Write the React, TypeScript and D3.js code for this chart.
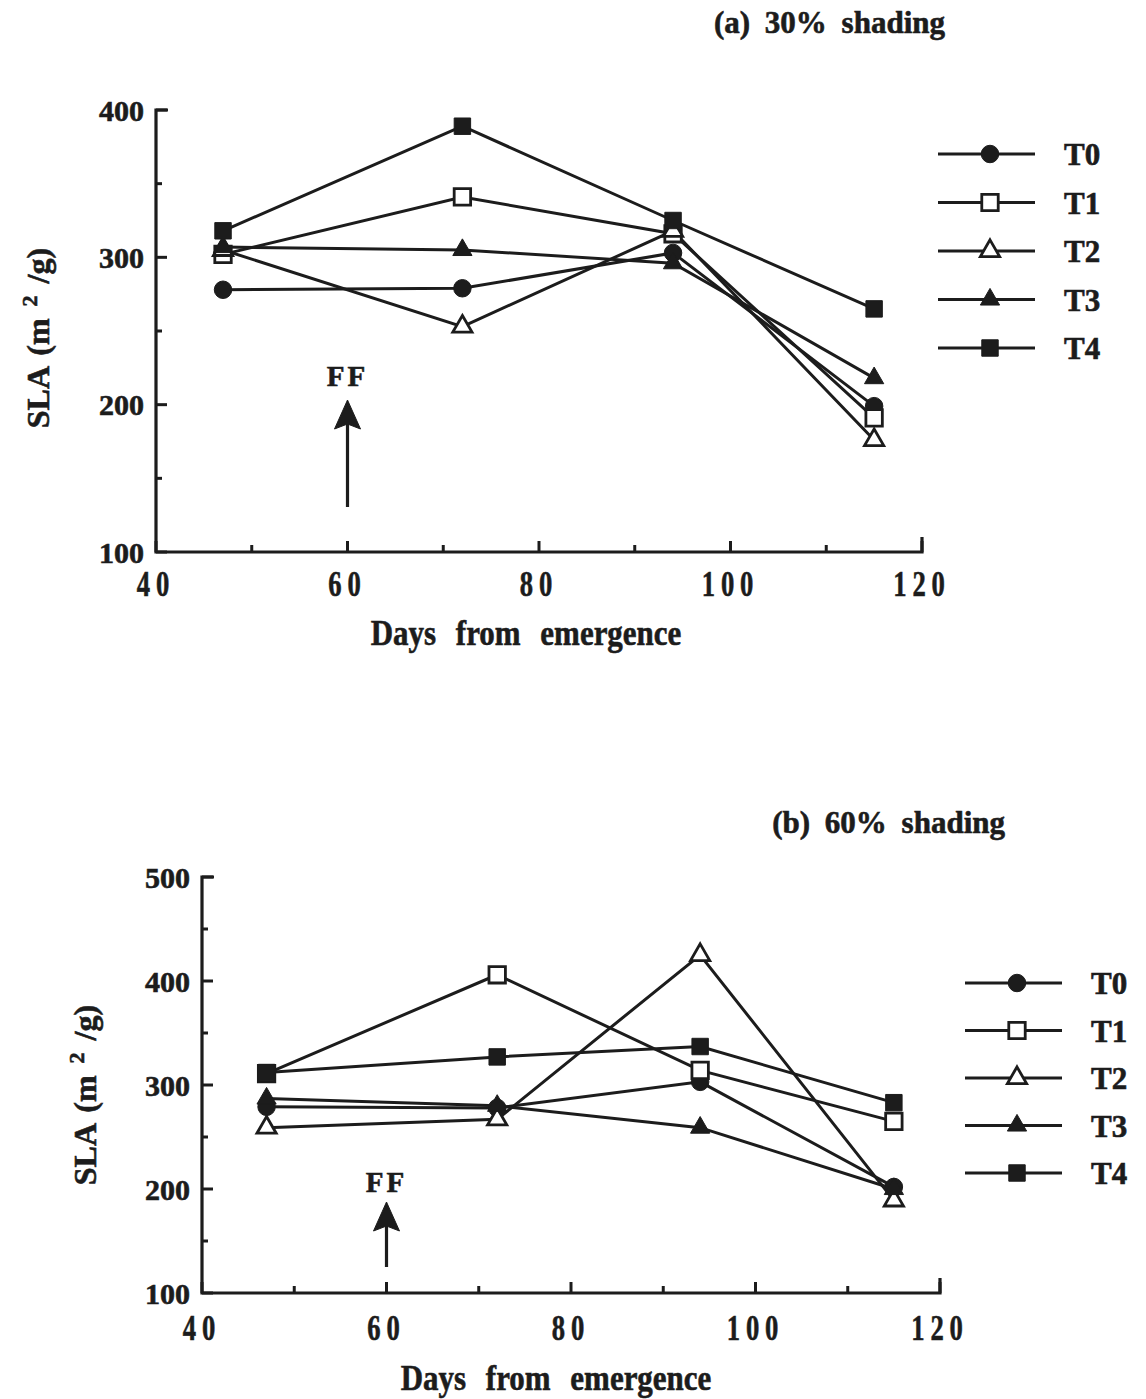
import * as d3 from 'd3';

// sampling days (x) for every treatment
const days = [47, 72, 94, 115];
const treatments = ['T0', 'T1', 'T2', 'T3', 'T4'];

// (a) 30% shading, SLA values
const a30T0 = [278, 279, 303, 199];
const a30T1 = [302, 341, 316, 191];
const a30T2 = [305, 253, 318, 176];
const a30T3 = [307, 305, 296, 218];
const a30T4 = [318, 389, 325, 265];

// (b) 60% shading, SLA values
const b60T0 = [279, 278, 303, 202];
const b60T1 = [311, 406, 314, 265];
const b60T2 = [259, 267, 425, 189];
const b60T3 = [287, 280, 259, 200];
const b60T4 = [312, 327, 337, 283];

const xTicks = [40, 60, 80, 100, 120];
const xMinor = [50, 70, 90, 110];
const ffDay = 60;

const ink = '#1c1c1c';
const serif = '"Liberation Serif", "Times New Roman", serif';

type Marker = 'circle' | 'square' | 'triangle';
const markerOf: { shape: Marker; filled: boolean }[] = [
  { shape: 'circle', filled: true },
  { shape: 'square', filled: false },
  { shape: 'triangle', filled: false },
  { shape: 'triangle', filled: true },
  { shape: 'square', filled: true },
];

const symbolPath = (shape: Marker) => {
  if (shape === 'circle') return d3.symbol(d3.symbolCircle, 240)()!;
  if (shape === 'square') return d3.symbol(d3.symbolSquare, 270)()!;
  return d3.symbol(d3.symbolTriangle, 160)()!;
};

const MarkerMark = ({ x, y, i }: { x: number; y: number; i: number }) => {
  const m = markerOf[i];
  return (
    <path
      d={symbolPath(m.shape)}
      transform={`translate(${x},${y})`}
      fill={m.filled ? ink : '#fff'}
      stroke={ink}
      strokeWidth={m.filled ? 1 : 2.8}
    />
  );
};

interface PanelProps {
  title: string;
  titleX: number;
  titleY: number;
  xRange: [number, number];
  yRange: [number, number];
  yDomain: [number, number];
  yTicks: number[];
  yMinor: number[];
  series: number[][];
  ffTextY: number;
  arrowTop: number;
  arrowBottom: number;
  legendX: number;
  legendY: number;
  legendGap: number;
  yLabelX: number;
  yLabelY: number;
  xLabelY: number;
  xTitleX: number;
  xTitleY: number;
}

const Panel = (p: PanelProps) => {
  const x = d3.scaleLinear().domain([40, 120]).range(p.xRange);
  const y = d3.scaleLinear().domain(p.yDomain).range(p.yRange);
  const x0 = p.xRange[0];
  const y0 = p.yRange[0];
  const line = d3
    .line<number>()
    .x((_, i) => x(days[i]))
    .y((d) => y(d));
  const ax = x(ffDay);

  return (
    <g fontFamily={serif} fontWeight="bold" fill={ink} stroke={ink} strokeWidth={0.6}>
      {/* title */}
      <text x={p.titleX} y={p.titleY} textAnchor="end" fontSize={31} wordSpacing={7}>
        {p.title}
      </text>

      {/* axes */}
      <path
        d={`M${x0 + 12},${p.yRange[1]}H${x0}V${y0}H${p.xRange[1]}V${y0 - 15}`}
        fill="none"
        strokeWidth={3.2}
      />
      {p.yTicks.map((t) => (
        <g key={'y' + t}>
          <line x1={x0} x2={x0 + 11} y1={y(t)} y2={y(t)} strokeWidth={3} />
          <text x={x0 - 12} y={y(t)} dy="0.35em" textAnchor="end" fontSize={30}>
            {t}
          </text>
        </g>
      ))}
      {p.yMinor.map((t) => (
        <line key={'ym' + t} x1={x0} x2={x0 + 6} y1={y(t)} y2={y(t)} strokeWidth={3} />
      ))}
      {xTicks.map((t) => (
        <g key={'x' + t}>
          <line x1={x(t)} x2={x(t)} y1={y0} y2={y0 - 11} strokeWidth={3} />
          <text
            transform={`translate(${x(t)},${p.xLabelY}) scale(0.74,1)`}
            textAnchor="middle"
            fontSize={36}
            letterSpacing={8}
          >
            {t}
          </text>
        </g>
      ))}
      {xMinor.map((t) => (
        <line key={'xm' + t} x1={x(t)} x2={x(t)} y1={y0} y2={y0 - 7} strokeWidth={3} />
      ))}

      {/* axis titles */}
      <text
        transform={`translate(${p.xTitleX},${p.xTitleY}) scale(0.86,1)`}
        textAnchor="middle"
        fontSize={36}
        wordSpacing={14}
      >
        Days from emergence
      </text>
      <text
        transform={`translate(${p.yLabelX},${p.yLabelY}) rotate(-90)`}
        textAnchor="middle"
        fontSize={32}
        wordSpacing={4}
      >
        SLA (m <tspan fontSize={22} dy={-12}>2</tspan>
        <tspan dy={12}> /g)</tspan>
      </text>

      {/* first flowering arrow */}
      <text x={ax} y={p.ffTextY} textAnchor="middle" fontSize={29} letterSpacing={3}>
        FF
      </text>
      <line x1={ax} x2={ax} y1={p.arrowBottom} y2={p.arrowTop + 20} strokeWidth={3.2} />
      <path
        d={`M${ax},${p.arrowTop}L${ax - 13},${p.arrowTop + 29}L${ax},${p.arrowTop + 24}L${ax + 13},${p.arrowTop + 29}Z`}
        strokeWidth={1}
      />

      {/* series */}
      {p.series.map((s, i) => (
        <path key={'l' + i} d={line(s)!} fill="none" strokeWidth={3} />
      ))}
      {p.series.map((s, i) =>
        s.map((v, j) => <MarkerMark key={`m${i}-${j}`} x={x(days[j])} y={y(v)} i={i} />)
      )}

      {/* legend */}
      {treatments.map((name, i) => {
        const ly = p.legendY + i * p.legendGap;
        return (
          <g key={name}>
            <line x1={p.legendX} x2={p.legendX + 97} y1={ly} y2={ly} strokeWidth={3.2} />
            <MarkerMark x={p.legendX + 52} y={ly} i={i} />
            <text x={p.legendX + 126} y={ly} dy="0.36em" fontSize={31}>
              {name}
            </text>
          </g>
        );
      })}
    </g>
  );
};

export default function App() {
  return (
    <svg
      width={1146}
      height={1399}
      style={{ position: 'absolute', left: 0, top: 0, background: '#fff' }}
    >
      <rect width={1146} height={1399} fill="#fff" />
      <Panel
        title="(a) 30% shading"
        titleX={945}
        titleY={33}
        xRange={[156, 922]}
        yRange={[552, 110]}
        yDomain={[100, 400]}
        yTicks={[100, 200, 300, 400]}
        yMinor={[150, 250, 350]}
        series={[a30T0, a30T1, a30T2, a30T3, a30T4]}
        ffTextY={386}
        arrowTop={400}
        arrowBottom={507}
        legendX={938}
        legendY={154}
        legendGap={48.5}
        yLabelX={49}
        yLabelY={338}
        xLabelY={596}
        xTitleX={526}
        xTitleY={645}
      />
      <Panel
        title="(b) 60% shading"
        titleX={1005}
        titleY={833}
        xRange={[202, 940]}
        yRange={[1293, 877]}
        yDomain={[100, 500]}
        yTicks={[100, 200, 300, 400, 500]}
        yMinor={[150, 250, 350, 450]}
        series={[b60T0, b60T1, b60T2, b60T3, b60T4]}
        ffTextY={1192}
        arrowTop={1202}
        arrowBottom={1267}
        legendX={965}
        legendY={983}
        legendGap={47.5}
        yLabelX={96}
        yLabelY={1095}
        xLabelY={1340}
        xTitleX={556}
        xTitleY={1390}
      />
    </svg>
  );
}
